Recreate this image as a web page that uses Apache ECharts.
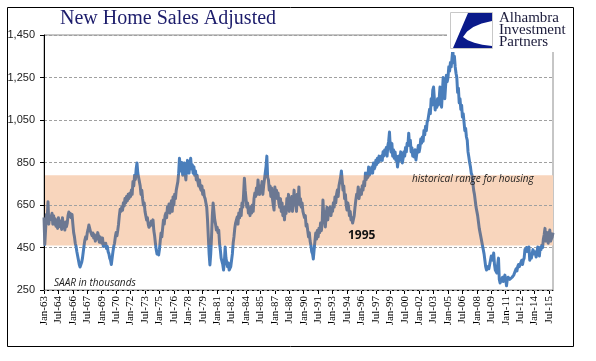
<!DOCTYPE html>
<html><head><meta charset="utf-8">
<script src="https://cdn.jsdelivr.net/npm/echarts@6/dist/echarts.min.js"></script>
<style>html,body{margin:0;padding:0;background:#fff}#c{width:596px;height:361px}</style>
</head><body><div id="c"></div>
<script>
// ---- data ----
const monthNames = ['Jan','Feb','Mar','Apr','May','Jun','Jul','Aug','Sep','Oct','Nov','Dec'];
const startYear = 1963;
const endYear = 2015;

// New home sales, SAAR in thousands, monthly
const sales1960s = [ // 1963-1969
  591,464,461,605,586,665,560,597,582,573,611,560,
  600,560,585,550,575,540,590,560,548,575,535,590,
  545,560,532,570,548,565,600,617,595,610,590,605,
  560,520,500,470,455,430,410,390,370,358,365,380,
  400,430,460,485,500,490,520,535,556,540,525,530,
  505,518,495,510,480,500,490,520,505,475,500,485,
  470,495,455,470,460,470,445,455,430,420,400,390
];
const sales1970s = [
  370,400,430,455,470,500,520,505,530,560,600,630,
  620,640,625,660,645,680,660,690,670,700,680,705,
  690,720,700,760,740,790,770,820,848,800,780,760,
  740,700,720,680,650,660,620,600,580,590,560,545,
  540,560,575,555,580,530,505,470,440,420,430,415,
  440,480,518,500,540,579,560,600,612,590,640,620,
  655,612,640,670,620,688,650,700,680,720,740,760,
  800,870,829,810,850,790,830,848,800,768,830,860,
  830,800,848,870,820,840,800,830,790,810,768,790,
  760,740,768,730,720,740,700,720,690,680,659,640
];
const sales1980s = [
  580,500,420,368,420,500,600,659,620,580,560,532,
  545,520,532,470,438,400,391,370,344,380,452,400,
  380,360,377,344,350,360,390,420,471,500,540,565,
  574,593,560,612,590,630,600,659,640,700,776,720,
  680,640,660,612,630,600,640,612,650,620,680,706,
  690,730,700,768,720,700,740,720,760,700,740,770,
  800,830,880,780,768,720,740,690,730,680,650,626,
  735,700,720,680,706,660,640,680,620,660,600,640,
  580,640,610,680,650,700,620,660,640,690,620,660,
  720,650,680,620,700,660,735,650,680,640,660,620
];
const sales1990s = [
  620,590,600,550,560,530,500,520,480,460,430,420,
  396,440,480,518,490,530,500,540,520,565,530,560,
  673,600,620,547,600,640,580,620,612,640,600,630,
  620,660,640,688,660,700,720,690,740,760,780,810,
  768,720,740,680,700,650,626,660,640,600,620,580,
  590,565,556,600,640,673,700,690,735,680,706,720,
  700,740,720,760,740,800,770,800,780,829,790,810,
  800,829,800,848,820,830,860,840,870,850,880,860,
  870,880,860,900,880,909,890,920,880,930,950,993,
  920,900,940,880,910,870,900,860,880,829,860,880
];
const sales2000s = [
  860,900,880,848,870,900,880,920,900,940,930,988,
  930,955,900,920,880,900,876,910,862,890,900,930,
  900,920,960,940,970,950,1000,980,1020,1000,1040,1050,
  1050,1100,1080,1150,1120,1191,1205,1150,1097,1130,1110,1150,
  1120,1150,1205,1160,1110,1180,1250,1200,1150,1210,1260,1230,
  1250,1300,1280,1320,1300,1340,1380,1320,1350,1300,1270,1250,
  1180,1200,1130,1150,1100,1120,1064,1080,1040,1000,1010,970,
  955,900,876,850,830,800,790,753,720,700,670,640,
  620,600,570,540,520,500,480,460,452,420,390,360,
  344,340,360,350,370,390,410,400,390,424,370,344
];
const sales2010s = [ // 2010-2015
  350,330,370,400,300,283,290,280,310,290,290,320,
  300,270,300,310,305,300,295,300,310,310,320,330,
  340,350,340,360,370,360,370,380,390,370,390,400,
  440,430,450,440,430,452,390,410,400,420,440,420,
  430,420,405,410,452,420,410,450,440,460,450,490,
  510,540,480,500,520,470,500,532,480,490,500,520
];
const bandRange = [460, 790];       // historical range for housing
const yMin = 250, yMax = 1450, yStep = 200;
const labelEvery = 18;               // months between x labels

// ---- build ----
const categories = [];
for (let y = startYear; y <= endYear; y++) {
  for (let m = 0; m < 12; m++) categories.push(monthNames[m] + '-' + String(y).slice(2));
}
const sales = [].concat(sales1960s, sales1970s, sales1980s, sales1990s, sales2000s, sales2010s);

const BLUE = '#4A7EBB', GRAY = '#6C7892';
const chart = echarts.init(document.getElementById('c'), null, {renderer: 'canvas'});
chart.setOption({
  animation: false,
  backgroundColor: '#fff',
  grid: {left: 44, right: 43, top: 35, bottom: 71, show: true, borderColor: '#8c8c8c', borderWidth: 1, backgroundColor: 'transparent'},
  xAxis: {
    type: 'category', data: categories, boundaryGap: false,
    axisLine: {lineStyle: {color: '#000', width: 1}},
    axisTick: {interval: labelEvery - 1, length: 4, lineStyle: {color: '#000'}},
    axisLabel: {interval: labelEvery - 1, rotate: 90, fontFamily: 'Liberation Serif', fontSize: 11, color: '#000', margin: 6},
    splitLine: {show: false}
  },
  yAxis: {
    type: 'value', min: yMin, max: yMax, interval: yStep, z: 2,
    axisLine: {show: true, lineStyle: {color: '#000', width: 1}},
    axisTick: {show: true, length: 4, lineStyle: {color: '#000'}},
    axisLabel: {formatter: v => v.toLocaleString('en-US'), fontFamily: 'Liberation Sans', fontSize: 11, color: '#222', margin: 9},
    splitLine: {show: true, lineStyle: {color: '#a0a0a0', type: [3, 2], width: 1}}
  },
  series: [
    {
      type: 'line', data: sales, showSymbol: false, symbol: 'none', z: 3,
      lineStyle: {width: 3, join: 'round', color: BLUE}
    },
    {
      type: 'line', data: [], z: 1, silent: true,
      markArea: {silent: true, itemStyle: {color: '#F8D5BC'}, data: [[{yAxis: bandRange[0]}, {yAxis: bandRange[1]}]]}
    }
  ],
  graphic: [
    {type: 'rect', z: 100, shape: {x: 7.5, y: 7.5, width: 566, height: 339}, style: {fill: 'none', stroke: '#000', lineWidth: 1}},
    {type: 'text', z: 100, x: 60, y: 19, style: {text: 'New Home Sales Adjusted', font: '20px "Liberation Serif"', fill: '#1c1c6b', verticalAlign: 'middle'}},
    // logo
    {type: 'rect', z: 90, shape: {x: 447, y: 9, width: 124, height: 43}, style: {fill: '#fff'}},
    {type: 'rect', z: 91, shape: {x: 450.5, y: 12.5, width: 42, height: 36}, style: {fill: '#fff', stroke: '#c8c8c8', lineWidth: 1}},
    {type: 'polygon', z: 92, shape: {points: [[468,13],[492,13],[492,21],[481.6,23.5],[473.3,27],[467.1,31.5],[463,37],[467.8,40.2],[474.3,42.8],[482.3,44.7],[492,46],[492,48],[453,48]]}, style: {fill: '#0a1a8a'}},
    {type: 'text', z: 92, x: 499, y: 18, style: {text: 'Alhambra', font: '15px "Liberation Serif"', fill: '#1a1a3a', verticalAlign: 'middle'}},
    {type: 'text', z: 92, x: 499, y: 30, style: {text: 'Investment', font: '15px "Liberation Serif"', fill: '#1a1a3a', verticalAlign: 'middle'}},
    {type: 'text', z: 92, x: 499, y: 42, style: {text: 'Partners', font: '15px "Liberation Serif"', fill: '#1a1a3a', verticalAlign: 'middle'}},
    // annotations
    {type: 'text', z: 50, x: 54, y: 283.5, style: {text: 'SAAR in thousands', font: 'italic 10px "Open Sans"', fill: '#222', verticalAlign: 'middle'}},
    {type: 'text', z: 50, x: 412, y: 179.5, style: {text: 'historical range for housing', font: 'italic 10px "Open Sans"', fill: '#222', verticalAlign: 'middle'}},
    {type: 'text', z: 50, x: 348, y: 235.5, style: {text: '1995', font: 'bold 12px "Open Sans"', fill: '#111', verticalAlign: 'middle'}}
  ]
});

// colour the line grey where it passes through the band (via axis scale)
const pTop = chart.convertToPixel({yAxisIndex: 0}, yMax);
const pBot = chart.convertToPixel({yAxisIndex: 0}, yMin);
const pHi = chart.convertToPixel({yAxisIndex: 0}, bandRange[1]);
const pLo = chart.convertToPixel({yAxisIndex: 0}, bandRange[0]);
const o1 = (pHi - pTop) / (pBot - pTop), o2 = (pLo - pTop) / (pBot - pTop);
chart.setOption({
  series: [{
    lineStyle: {color: new echarts.graphic.LinearGradient(0, pTop, 0, pBot, [
      {offset: 0, color: BLUE}, {offset: o1, color: BLUE}, {offset: o1, color: GRAY},
      {offset: o2, color: GRAY}, {offset: o2, color: BLUE}, {offset: 1, color: BLUE}
    ], true)}
  }]
});
</script></body></html>
